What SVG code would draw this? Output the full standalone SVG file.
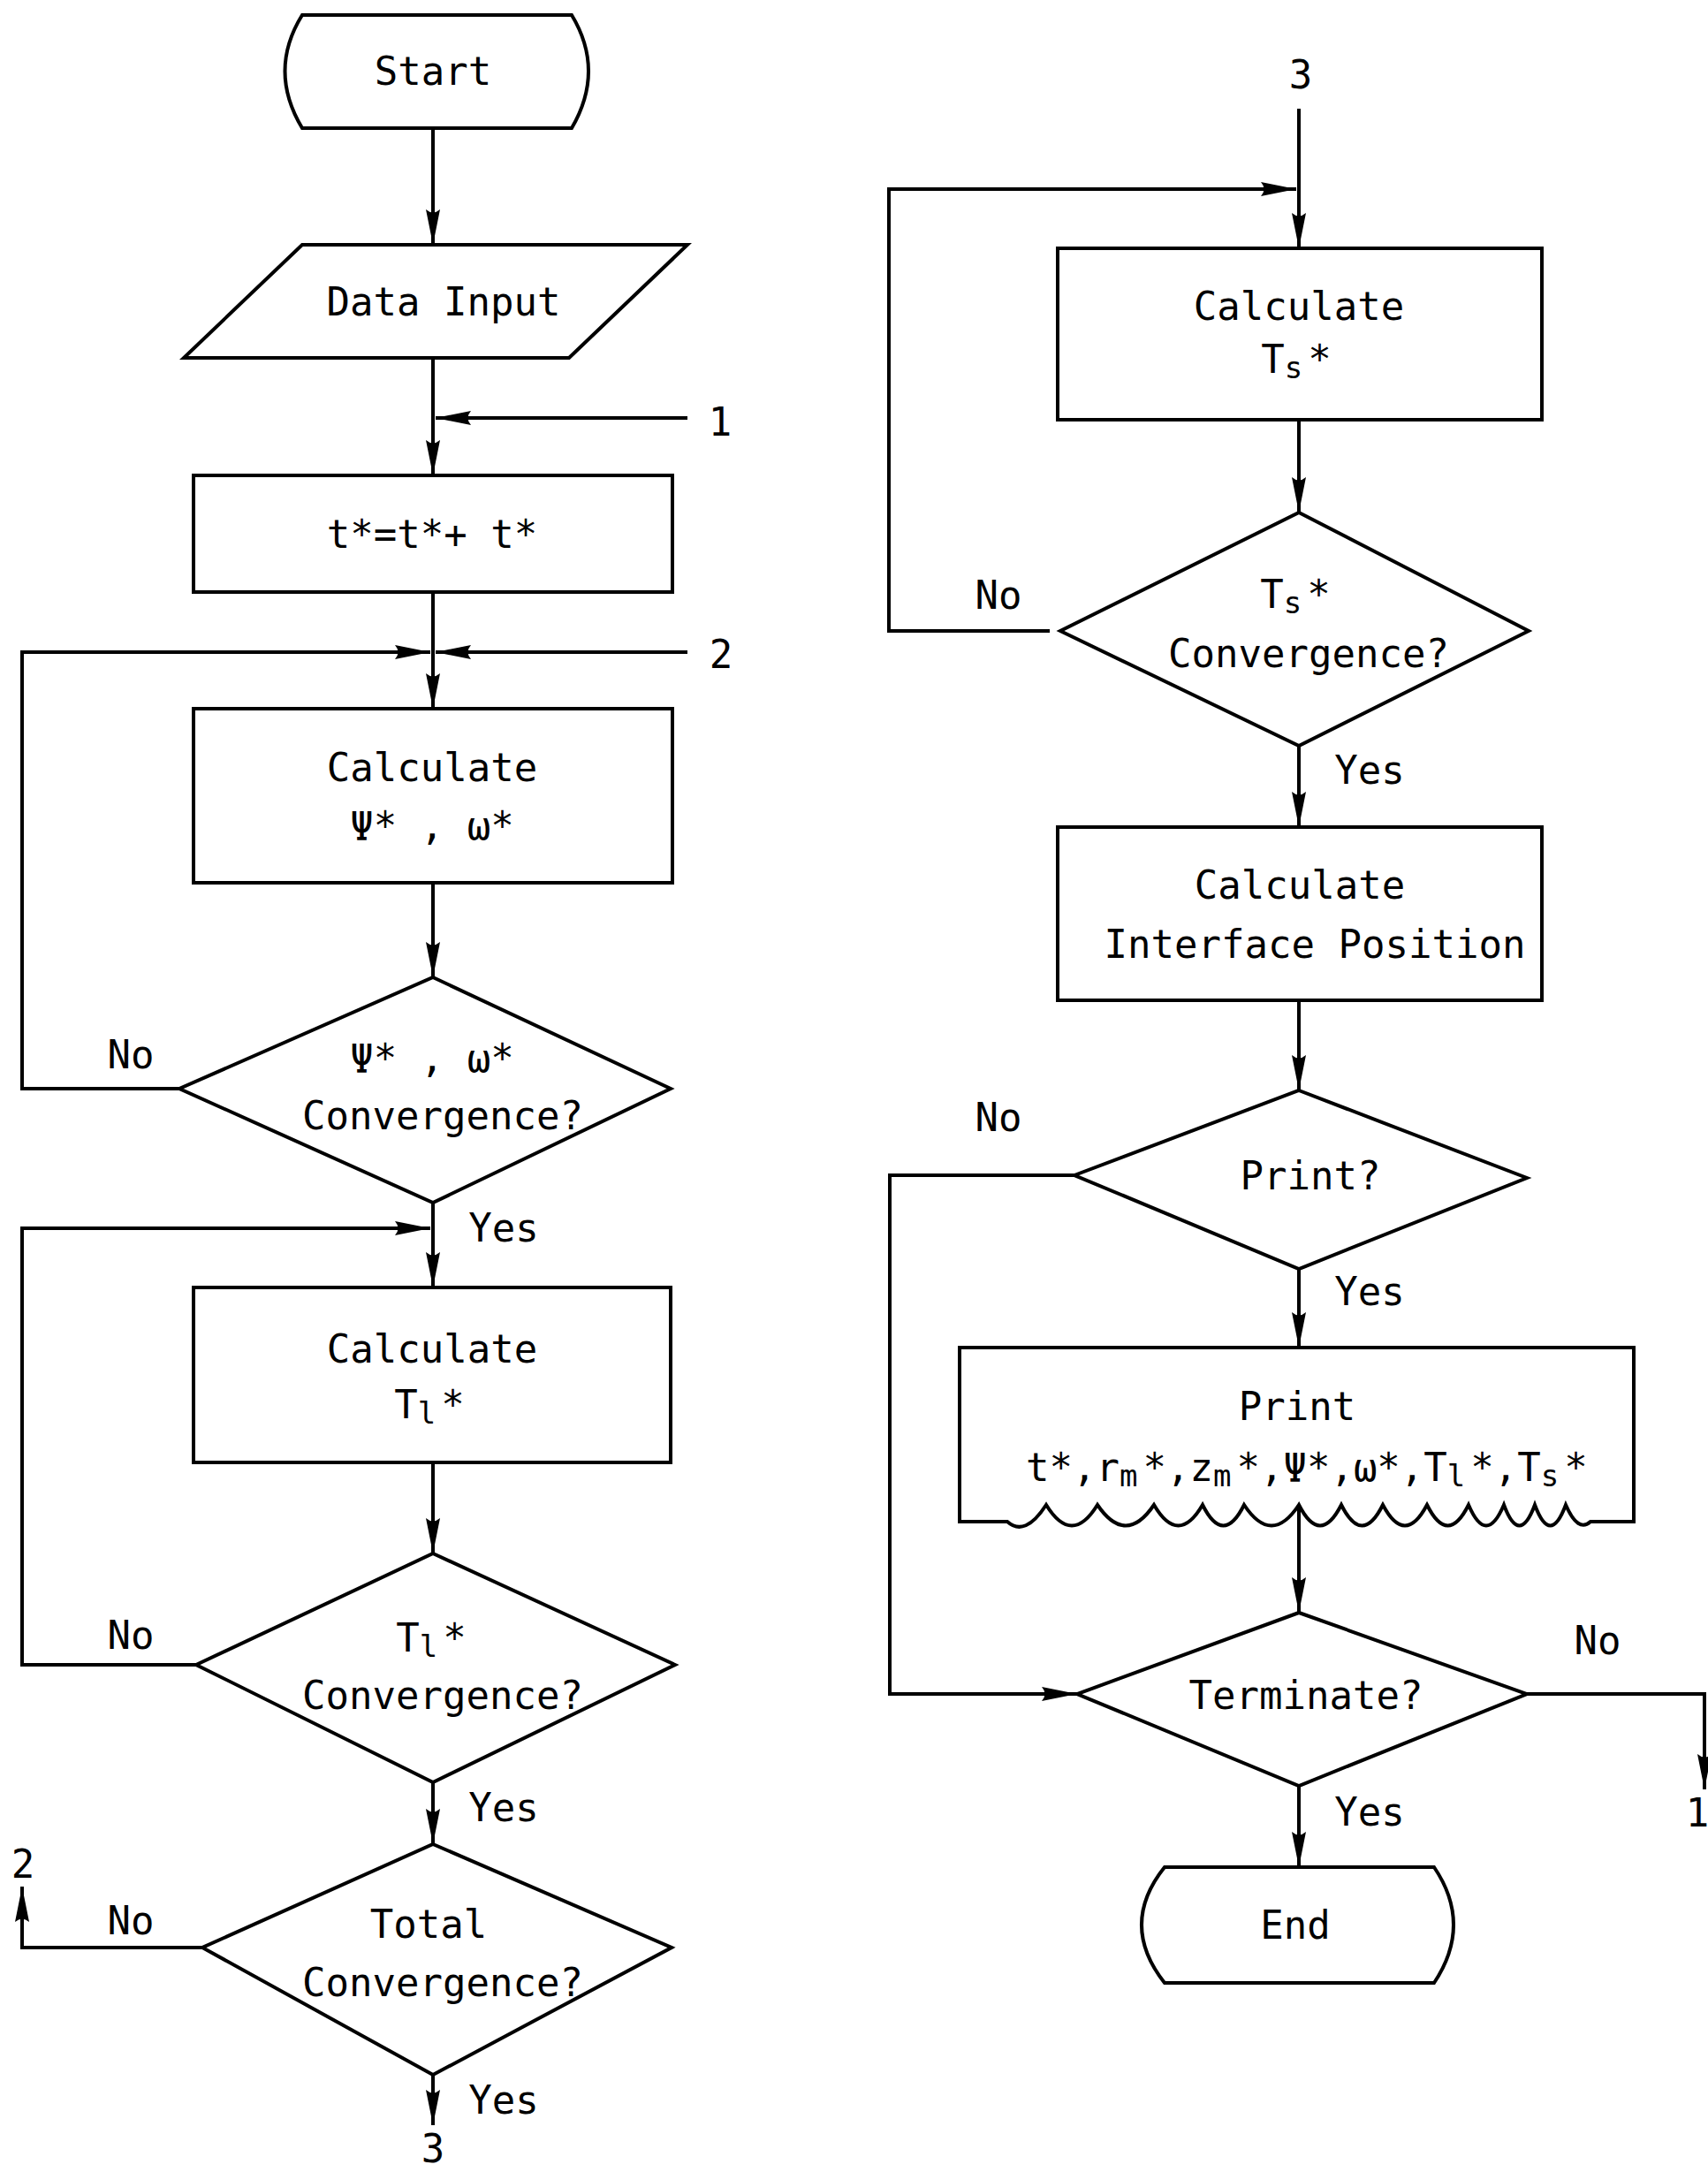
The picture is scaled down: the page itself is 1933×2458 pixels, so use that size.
<svg xmlns="http://www.w3.org/2000/svg" width="1933" height="2458" viewBox="0 0 1933 2458">
<defs>
<style>
.n{fill:#fff;stroke:#000;stroke-width:4;stroke-linejoin:miter}
.c{fill:none;stroke:#000;stroke-width:4}
.t{font-family:"DejaVu Sans Mono","Liberation Mono",monospace;font-size:44px;fill:#000;text-anchor:middle}
.ts{font-family:"DejaVu Sans Mono","Liberation Mono",monospace;font-size:44px;fill:#000;text-anchor:start}
.sub{font-size:34px}
</style>
<marker id="ah" markerUnits="userSpaceOnUse" markerWidth="40" markerHeight="18" viewBox="0 0 40 18" refX="40" refY="9" orient="auto">
<path d="M0,1 L40,9 L0,17 Q7,9 0,1 Z" fill="#000"/>
</marker>
</defs>
<rect width="1933" height="2458" fill="#fff"/>

<g id="connectors">
<path class="c" d="M490,146 V277" marker-end="url(#ah)"/>
<path class="c" d="M490,405 V538" marker-end="url(#ah)"/>
<path class="c" d="M778,473 H493" marker-end="url(#ah)"/>
<path class="c" d="M490,670 V802" marker-end="url(#ah)"/>
<path class="c" d="M203,1232 H25 V738 H487" marker-end="url(#ah)"/>
<path class="c" d="M778,738 H493" marker-end="url(#ah)"/>
<path class="c" d="M490,999 V1106" marker-end="url(#ah)"/>
<path class="c" d="M490,1361 V1457" marker-end="url(#ah)"/>
<path class="c" d="M222,1884 H25 V1390 H487" marker-end="url(#ah)"/>
<path class="c" d="M490,1655 V1758" marker-end="url(#ah)"/>
<path class="c" d="M490,2017 V2087" marker-end="url(#ah)"/>
<path class="c" d="M229,2204 H25 V2135" marker-end="url(#ah)"/>
<path class="c" d="M490,2348 V2405" marker-end="url(#ah)"/>
<path class="c" d="M1470,123 V281" marker-end="url(#ah)"/>
<path class="c" d="M1188,714 H1006 V214 H1467" marker-end="url(#ah)"/>
<path class="c" d="M1470,475 V580" marker-end="url(#ah)"/>
<path class="c" d="M1470,844 V936" marker-end="url(#ah)"/>
<path class="c" d="M1470,1132 V1234" marker-end="url(#ah)"/>
<path class="c" d="M1216,1330 H1007 V1917 H1219" marker-end="url(#ah)"/>
<path class="c" d="M1470,1436 V1525" marker-end="url(#ah)"/>
<path class="c" d="M1470,1703 V1825" marker-end="url(#ah)"/>
<path class="c" d="M1728,1917 H1929 V2025" marker-end="url(#ah)"/>
<path class="c" d="M1470,2021 V2113" marker-end="url(#ah)"/>
<text class="t" x="815" y="493">1</text>
<text class="t" x="816" y="756">2</text>
<text class="t" x="26" y="2125">2</text>
<text class="t" x="490" y="2447">3</text>
<text class="t" x="1472" y="100">3</text>
<text class="t" x="1921" y="2067">1</text>
<text class="t" x="148" y="1209">No</text>
<text class="t" x="148" y="1866">No</text>
<text class="t" x="148" y="2189">No</text>
<text class="t" x="570" y="1405">Yes</text>
<text class="t" x="570" y="2061">Yes</text>
<text class="t" x="570" y="2392">Yes</text>
<text class="t" x="1130" y="689">No</text>
<text class="t" x="1550" y="887">Yes</text>
<text class="t" x="1130" y="1280">No</text>
<text class="t" x="1550" y="1477">Yes</text>
<text class="t" x="1808" y="1872">No</text>
<text class="t" x="1550" y="2066">Yes</text>
</g>

<g id="start">
<path class="n" d="M342,17 H647 Q685,80 647,145 H342 Q303,80 342,17 Z"/>
<text class="t" x="490" y="96">Start</text>
</g>

<g id="data-input">
<path class="n" d="M342,277 L778,277 L644,405 L208,405 Z"/>
<text class="t" x="502" y="357">Data Input</text>
</g>

<g id="time-step">
<rect class="n" x="219" y="538" width="542" height="132"/>
<text class="t" x="489" y="620">t*=t*+ t*</text>
</g>

<g id="calc-psi-omega">
<rect class="n" x="219" y="802" width="542" height="197"/>
<text class="t" x="489" y="884">Calculate</text>
<text class="t" x="489" y="950">Ψ* , ω*</text>
</g>

<g id="conv-psi-omega">
<path class="n" d="M490,1106 L759,1232 L490,1361 L203,1232 Z"/>
<text class="t" x="489" y="1213">Ψ* , ω*</text>
<text class="t" x="501" y="1278">Convergence?</text>
</g>

<g id="calc-tl">
<rect class="n" x="219" y="1457" width="540" height="198"/>
<text class="t" x="489" y="1542">Calculate</text>
<text class="t" x="486" y="1605">T<tspan class="sub" dy="6">l</tspan><tspan dy="-6" dx="6">*</tspan></text>
</g>

<g id="conv-tl">
<path class="n" d="M490,1758 L764,1884 L490,2017 L222,1884 Z"/>
<text class="t" x="488" y="1869">T<tspan class="sub" dy="6">l</tspan><tspan dy="-6" dx="6">*</tspan></text>
<text class="t" x="501" y="1934">Convergence?</text>
</g>

<g id="total-conv">
<path class="n" d="M490,2087 L760,2204 L490,2348 L229,2204 Z"/>
<text class="t" x="485" y="2193">Total</text>
<text class="t" x="501" y="2259">Convergence?</text>
</g>

<g id="calc-ts">
<rect class="n" x="1197" y="281" width="548" height="194"/>
<text class="t" x="1470" y="362">Calculate</text>
<text class="t" x="1467" y="422">T<tspan class="sub" dy="6">s</tspan><tspan dy="-6" dx="6">*</tspan></text>
</g>

<g id="conv-ts">
<path class="n" d="M1470,580 L1730,714 L1470,844 L1200,714 Z"/>
<text class="t" x="1466" y="688">T<tspan class="sub" dy="6">s</tspan><tspan dy="-6" dx="6">*</tspan></text>
<text class="t" x="1481" y="755">Convergence?</text>
</g>

<g id="calc-interface">
<rect class="n" x="1197" y="936" width="548" height="196"/>
<text class="t" x="1471" y="1017">Calculate</text>
<text class="t" x="1488" y="1084">Interface Position</text>
</g>

<g id="print-decision">
<path class="n" d="M1470,1234 L1728,1333 L1470,1436 L1216,1330 Z"/>
<text class="t" x="1483" y="1346">Print?</text>
</g>

<g id="print-output">
<path class="n" d="M1086,1722 V1525 H1849 V1722 H1800 Q1786,1735 1772,1703 Q1754.5,1750 1737,1703 Q1719.5,1750 1702,1703 Q1682,1750 1662,1703 Q1638.5,1750 1615,1703 Q1590,1750 1565,1703 Q1541.5,1750 1518,1703 Q1494,1750 1470,1703 Q1439,1750 1408,1703 Q1384.5,1750 1361,1703 Q1333.5,1750 1306,1703 Q1274,1750 1242,1703 Q1213,1750 1184,1703 Q1160,1740 1140,1722 Z"/>
<text class="t" x="1468" y="1607">Print</text>
<text class="ts" x="1161" y="1676">t*,r<tspan class="sub" dy="6">m</tspan><tspan dy="-6" dx="6">*</tspan>,z<tspan class="sub" dy="6">m</tspan><tspan dy="-6" dx="6">*</tspan>,Ψ*,ω*,T<tspan class="sub" dy="6">l</tspan><tspan dy="-6" dx="6">*</tspan>,T<tspan class="sub" dy="6">s</tspan><tspan dy="-6" dx="6">*</tspan></text>
</g>

<g id="terminate">
<path class="n" d="M1470,1825 L1728,1917 L1470,2021 L1219,1917 Z"/>
<text class="t" x="1478" y="1934">Terminate?</text>
</g>

<g id="end">
<path class="n" d="M1318,2113 H1623 Q1667,2178 1623,2244 H1318 Q1266,2178 1318,2113 Z"/>
<text class="t" x="1466" y="2194">End</text>
</g>
</svg>
